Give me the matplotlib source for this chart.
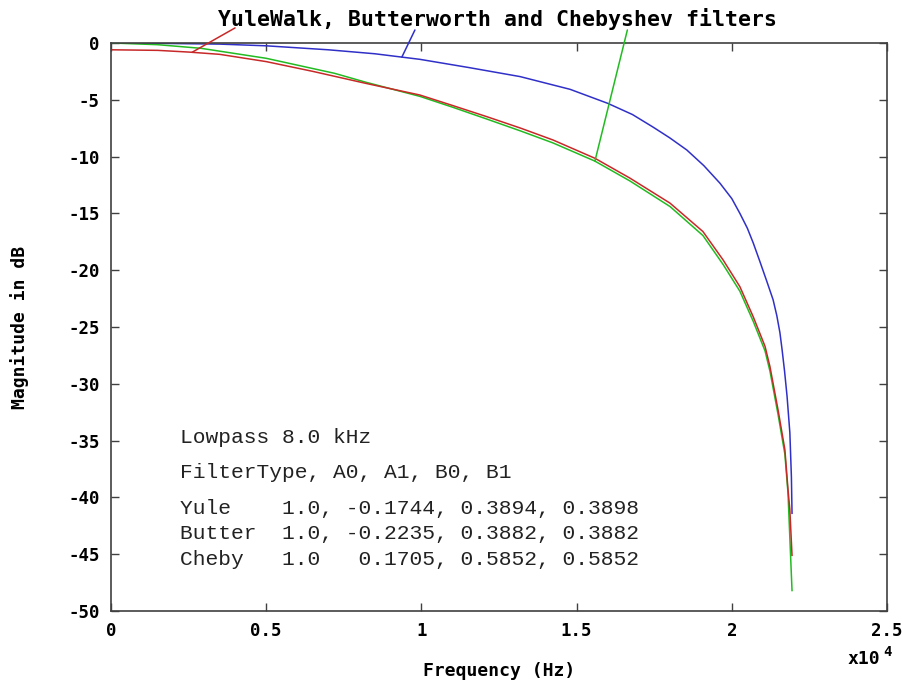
import numpy as np
import matplotlib.pyplot as plt

plt.rcParams['axes.unicode_minus'] = False

# frequency (Hz) and magnitude (dB)
yule_f = [0, 2000, 3500, 5000, 7000, 8500, 9950, 11500, 13180, 14790, 16000, 16800,
          17460, 18000, 18550, 19100, 19620, 20000, 20260, 20500, 20690, 20900, 21130,
          21330, 21450, 21550, 21620, 21700, 21780, 21870, 21920, 21940]
yule_db = [0, -0.05, -0.1, -0.25, -0.6, -0.95, -1.44, -2.15, -2.96, -4.08, -5.31, -6.3,
           -7.4, -8.35, -9.42, -10.8, -12.35, -13.7, -15.0, -16.3, -17.6, -19.2, -21.0,
           -22.6, -24.0, -25.5, -27.0, -28.9, -31.1, -34.3, -38.2, -41.4]

butter_f = [0, 1500, 2500, 3500, 5000, 6500, 8200, 9950, 11000, 12110, 13200, 14240,
            15590, 16720, 18010, 19070, 19720, 20260, 20690, 21070, 21230, 21490, 21710,
            21810, 21870, 21940]
butter_db = [-0.6, -0.65, -0.8, -1.0, -1.64, -2.5, -3.55, -4.58, -5.5, -6.49, -7.5, -8.54,
             -10.15, -11.9, -14.1, -16.6, -19.1, -21.45, -24.1, -26.7, -28.5, -32.3, -35.8,
             -39.3, -41.1, -45.1]

cheby_f = [0, 1500, 2900, 5000, 7200, 8200, 9950, 11000, 12110, 13200, 14240, 15590,
           16720, 18010, 19070, 19720, 20260, 20690, 21070, 21230, 21490, 21710, 21810,
           21940]
cheby_db = [0, -0.15, -0.47, -1.35, -2.67, -3.45, -4.7, -5.65, -6.7, -7.75, -8.8, -10.4,
            -12.15, -14.4, -16.95, -19.5, -21.85, -24.5, -27.1, -28.9, -32.7, -36.2, -39.6,
            -48.2]

xticks = [0, 5000, 10000, 15000, 20000, 25000]
xtick_labels = ['0', '0.5', '1', '1.5', '2', '2.5']
yticks = list(range(0, -55, -5))

info_lines = ['Lowpass 8.0 kHz',
              'FilterType, A0, A1, B0, B1',
              'Yule    1.0, -0.1744, 0.3894, 0.3898',
              'Butter  1.0, -0.2235, 0.3882, 0.3882',
              'Cheby   1.0   0.1705, 0.5852, 0.5852']

blue = '#3030c8'
red = '#c82828'
green = '#22bb22'
axcol = '#404040'
mono = 'DejaVu Sans Mono'

fig = plt.figure(figsize=(9.04, 6.81), dpi=100)
ax = fig.add_axes([0.1228, 0.1028, 0.8584, 0.8341])

ax.plot(yule_f, yule_db, color=blue, lw=1.1)
ax.plot(cheby_f, cheby_db, color=green, lw=1.1)
ax.plot(butter_f, butter_db, color=red, lw=1.1)

ax.set_xlim(0, 25000)
ax.set_ylim(-50, 0)
ax.set_xticks(xticks)
ax.set_xticklabels(xtick_labels)
ax.set_yticks(yticks)
ax.tick_params(direction='in', length=6, width=1, color=axcol, top=True, right=True,
               labelsize=12.5, pad=8)
for lab in ax.get_xticklabels() + ax.get_yticklabels():
    lab.set_family(mono)
    lab.set_weight('bold')
for s in ax.spines.values():
    s.set_color(axcol)
    s.set_linewidth(1.2)

ax.set_xlabel('Frequency (Hz)', family=mono, weight='bold', fontsize=13)
ax.xaxis.set_label_coords(0.5, -0.09)
ax.set_ylabel('Magnitude in dB', family=mono, weight='bold', fontsize=13)
ax.yaxis.set_label_coords(-0.106, 0.5)

fig.text(0.937, 0.0185, 'x10', family=mono, weight='bold', fontsize=13,
         ha='left', va='bottom')
fig.text(0.9765, 0.033, '4', family=mono, weight='bold', fontsize=10,
         ha='left', va='bottom')

fig.text(0.55, 0.972, 'YuleWalk, Butterworth and Chebyshev filters', family=mono,
         weight='bold', fontsize=15.5, ha='center', va='center')

# leader lines from the title to each curve
leaders = [(2610, butter_f, butter_db, red, (0.26, 0.959)),
           (9370, yule_f, yule_db, blue, (0.459, 0.956)),
           (15590, cheby_f, cheby_db, green, (0.694, 0.956))]
for fx, ff, fd, c, start in leaders:
    ax.annotate('', xy=(fx, np.interp(fx, ff, fd)), xytext=start,
                textcoords='figure fraction', annotation_clip=False,
                arrowprops=dict(arrowstyle='-', color=c, lw=1.1, shrinkA=0, shrinkB=0))

ys = [0.357, 0.306, 0.254, 0.216, 0.178]
for t, yy in zip(info_lines, ys):
    fig.text(0.199, yy, t, family='Liberation Mono', fontsize=15.3, color='#222222',
             ha='left', va='center')

fig.savefig('out.png', dpi=100)
